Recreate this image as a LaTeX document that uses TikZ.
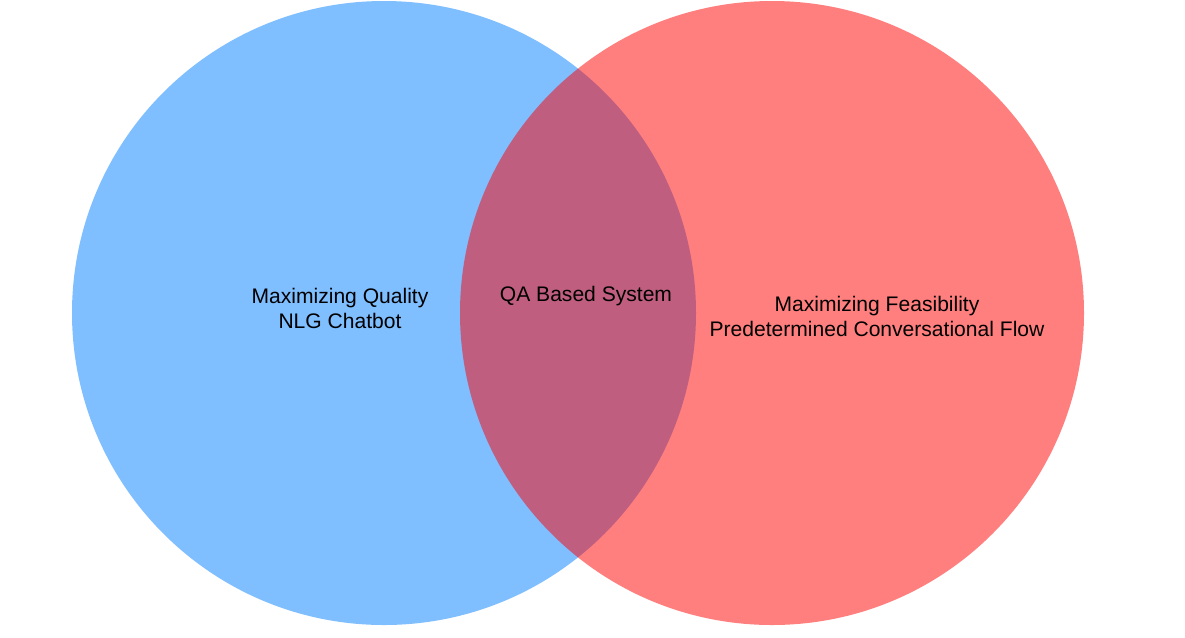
\documentclass[tikz,border=0pt]{standalone}
\usepackage{fontspec}
\setmainfont{Liberation Sans}
\usetikzlibrary{positioning}

\definecolor{qualityblue}{HTML}{007FFF}
\definecolor{feasred}{HTML}{FF0000}

\begin{document}
\begin{tikzpicture}[x=0.75pt, y=-0.75pt,
    venn/.style={opacity=0.5, draw=none},
    lbl/.style={font=\fontsize{15.8}{18.75}\selectfont, align=center, text=black, inner sep=0pt}]
    % Frame
    \useasboundingbox (0,0) rectangle (1185,637);
    \fill[white] (0,0) rectangle (1185,637);

    % Circles
    \fill[venn, qualityblue] (384,313) circle (312);
    \fill[venn, feasred] (772,313) circle (312);

    % Labels
    \node[lbl] (quality) at (340,308) {Maximizing Quality\\NLG Chatbot};
    \node[lbl] (qa) at (586,296) {QA Based System};
    \node[lbl] (feas) at (877,316) {Maximizing Feasibility\\Predetermined Conversational Flow};
\end{tikzpicture}
\end{document}
